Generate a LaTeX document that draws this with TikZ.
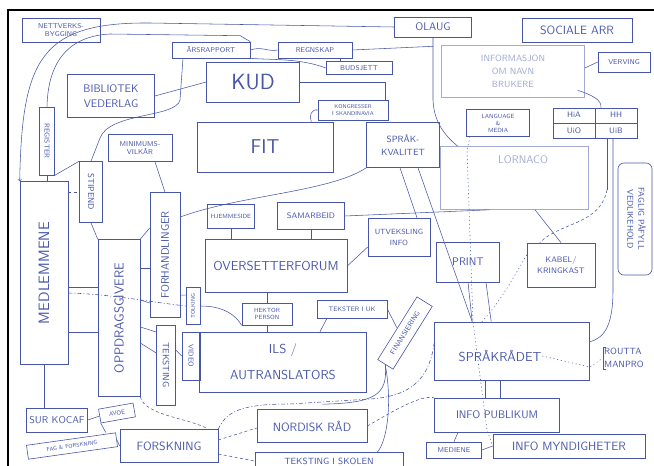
\documentclass[tikz,border=0pt]{standalone}
\usepackage{graphicx}
\usetikzlibrary{calc}
\definecolor{ink}{RGB}{72,86,168}
\definecolor{pale}{RGB}{160,170,210}
\newcommand{\hand}[2]{\fontsize{#1}{#2}\selectfont\sffamily}
\tikzset{
  inkbox/.style={draw=ink, line width=0.6pt, text=ink, inner sep=1pt, align=center},
  palebox/.style={inkbox, draw=pale, text=pale},
  inktext/.style={text=ink, inner sep=1pt, align=center},
  link/.style={draw=ink, line width=0.55pt},
  dashlink/.style={link, dash pattern=on 3pt off 2.5pt},
  dotlink/.style={link, dash pattern=on 0.8pt off 3pt, line cap=round},
  dashdotlink/.style={link, dash pattern=on 4pt off 2pt on 1pt off 2pt},
}

\begin{document}
\begin{tikzpicture}[x=1pt,y=-1pt]
		%%%%% START %%%%%
		\useasboundingbox (0,0) rectangle (654,466);
		\draw[line width=1.6pt] (8,466) -- (8,10) -- (654,10);
		
		% top row
		\node[inkbox, minimum width=78, minimum height=24, font=\hand{7}{8}] (netv) at (61,30) {NETTVERKS-\\BYGGING};
		\node[inkbox, minimum width=78, minimum height=16, font=\hand{7}{8}] (aars) at (211,50) {ÅRSRAPPORT};
		\node[inkbox, minimum width=74, minimum height=16, font=\hand{7}{8}] (regn) at (315,50) {REGNSKAP};
		\node[inkbox, minimum width=66, minimum height=13, font=\hand{7}{8}] (budsj) at (359,68) {BUDSJETT};
		\node[inkbox, minimum width=77, minimum height=20, font=\hand{11}{12}] (olaug) at (433,27) {OLAUG};
		\node[inkbox, minimum width=110, minimum height=24, font=\hand{12}{13}] (sosial) at (577,30) {SOCIALE ARR};
		\node[palebox, minimum width=143, minimum height=52, font=\hand{9}{13}] (infonavn) at (513,71) {INFORMASJON\\OM NAVN\\BRUKERE};
		\node[inkbox, minimum width=52, minimum height=20, font=\hand{7}{8}] (verv) at (624,62) {VERVING};
		
		\node[inkbox, minimum width=93, minimum height=40, font=\hand{22}{24}] (kud) at (253,82) {KUD};
		\node[inkbox, minimum width=87, minimum height=43, font=\hand{11}{15}] (bibl) at (111,96) {BIBLIOTEK\\VEDERLAG};
		\node[inkbox, minimum width=70, minimum height=20, font=\hand{5.5}{7}] (kongr) at (353,110) {KONGRESSER\\I SKANDINAVIA};
		\node[inkbox, minimum width=136, minimum height=50, font=\hand{20}{22}] (fit) at (265,147) {FIT};
		\node[inkbox, minimum width=73, minimum height=45, font=\hand{9}{13}] (sprkv) at (403,145) {SPRÅK-\\KVALITET};
		
		% universities
		\node[inkbox, minimum width=84, minimum height=30] (unis) at (595,123) {};
		\draw[link] (unis.west) -- (unis.east);
		\draw[link] (unis.north) -- (unis.south);
		\node[inktext, font=\hand{8}{9}] (hia) at (574,115) {HiA};
		\node[inktext, font=\hand{8}{9}] (hh) at (616,115) {HH};
		\node[inktext, font=\hand{8}{9}] (uio) at (574,131) {UiO};
		\node[inktext, font=\hand{8}{9}] (uib) at (616,131) {UiB};
		\node[inkbox, minimum width=63, minimum height=27, font=\hand{6}{7}] (langm) at (498,123) {LANGUAGE\\\&\\MEDIA};
		
		\node[palebox, minimum width=148, minimum height=63] (lorn) at (514,178) {};
		\node[inktext, text=pale, font=\hand{11}{12}] (lorntxt) at (523,160) {LORNACO};
		
		% left column
		\node[inkbox, minimum width=15, minimum height=68, font=\hand{7}{8}] (regis) at (47,141) {\rotatebox{-90}{REGISTER}};
		\node[inkbox, minimum width=64, minimum height=27, font=\hand{7}{8.5}] (minim) at (140,148) {MINIMUMS-\\VILKÅR};
		\node[inkbox, minimum width=23, minimum height=61, font=\hand{8.5}{9}] (stip) at (91,192) {\rotatebox{-90}{STIPEND}};
		\node[inkbox, minimum width=48, minimum height=183, font=\hand{15}{16}] (medl) at (44,273) {\rotatebox{90}{MEDLEMMENE}};
		\node[inkbox, minimum width=42, minimum height=157, font=\hand{13}{14}] (oppdr) at (119,318) {\rotatebox{90}{OPPDRAGSGIVERE}};
		\node[inkbox, minimum width=30, minimum height=125, font=\hand{11}{12}] (forh) at (165,255) {\rotatebox{90}{FORHANDLINGER}};
		\node[inkbox, minimum width=14, minimum height=37, font=\hand{5.5}{6}] (tolk) at (193,306) {\rotatebox{90}{TOLKING}};
		\node[inkbox, minimum width=19, minimum height=80, font=\hand{9}{10}] (teksting) at (166,365) {\rotatebox{-90}{TEKSTING}};
		\node[inkbox, minimum width=18, minimum height=48, font=\hand{7}{8}] (video) at (191,356) {\rotatebox{-90}{VIDEO}};
		
		% middle
		\node[inkbox, minimum width=47, minimum height=24, font=\hand{6}{7}] (hjem) at (231,216) {HJEMMESIDE};
		\node[inkbox, minimum width=67, minimum height=27, font=\hand{8}{9}] (samarb) at (311,216) {SAMARBEID};
		\node[inkbox, minimum width=62, minimum height=38, font=\hand{7.5}{11}] (utveks) at (399,237) {UTVEKSLING\\INFO};
		\node[inkbox, minimum width=142, minimum height=53, font=\hand{13}{14}] (overs) at (276,266) {OVERSETTERFORUM};
		\node[inkbox, minimum width=63, minimum height=40, font=\hand{11}{12}] (print) at (468,262) {PRINT};
		\node[inkbox, minimum width=68, minimum height=44, font=\hand{8}{11}] (kabel) at (561,265) {KABEL/\\KRINGKAST};
		\node[inkbox, rounded corners=6pt, minimum width=34, minimum height=112, font=\hand{8.5}{11}] (fagpaf) at (635,219) {\rotatebox{-90}{\begin{tabular}{@{}c@{}}FAGLIG PÅFYLL\\VEDLIKEHOLD\end{tabular}}};
		
		\node[inkbox, minimum width=50, minimum height=22, font=\hand{6}{7}] (hekt) at (267,314) {HEKTOR\\PERSON};
		\node[inkbox, minimum width=70, minimum height=18, font=\hand{6.5}{7}] (tekuk) at (352,309) {TEKSTER I UK};
		\node[inkbox, rotate=58, minimum width=74, minimum height=18, font=\hand{7}{8}] (finans) at (405,333) {FINANSIERING};
		\node[inkbox, minimum width=167, minimum height=60, font=\hand{13}{26}] (ils) at (283,362) {ILS /\\AUTRANSLATORS};
		
		\node[inkbox, minimum width=155, minimum height=58] (sprr) at (512,351) {};
		\node[inktext, font=\hand{13}{14}] (sprtxt) at (500,356) {SPRÅKRÅDET};
		\node[inktext, anchor=west, align=left, font=\hand{9}{13}] (routta) at (603,358) {ROUTTA\\MANPRO};
		\draw[link] ($(routta.north west)+(3,0)$) -- (routta.north west) -- (routta.south west) -- +(3,0);
		
		% bottom row
		\node[inkbox, minimum width=61, minimum height=24, font=\hand{10}{11}] (surk) at (57,420) {SUR KOCAF};
		\node[inkbox, rotate=10, minimum width=35, minimum height=14, font=\hand{6}{7}] (avoe) at (117,413) {AVOE};
		\node[inkbox, rotate=8, minimum width=90, minimum height=14, font=\hand{5.5}{6}] (fagf) at (72,446) {FAG \& FORSKNING};
		\node[inkbox, minimum width=98, minimum height=33, font=\hand{12}{13}] (forsk) at (169,446) {FORSKNING};
		\node[inkbox, minimum width=110, minimum height=33, font=\hand{12}{13}] (nordr) at (312,426) {NORDISK RÅD};
		\node[inkbox, minimum width=148, minimum height=17, font=\hand{9}{10}] (tekskol) at (329,461) {TEKSTING I SKOLEN};
		\node[inkbox, minimum width=125, minimum height=34, font=\hand{11}{12}] (infopub) at (497,415) {INFO PUBLIKUM};
		\node[inkbox, minimum width=55, minimum height=16, font=\hand{7}{8}] (medie) at (454,450) {MEDIENE};
		\node[inkbox, minimum width=152, minimum height=24, font=\hand{12}{13}] (infomyn) at (569,446) {INFO MYNDIGHETER};
		
		% connectors, top
		\draw[link,->] (olaug.west) -- (150,23) .. controls (40,22) and (22,60) .. (medl.north west);
		\draw[link] (aars.north east) -- ++(-10,-6) -- (110,34) .. controls (70,36) and (48,60) .. (regis.north);
		\draw[link] (aars.east) .. controls (262,46) and (268,52) .. (regn.west);
		\draw[link] (aars.south east) .. controls (270,60) and (300,58) .. (budsj.west);
		\draw[link] ($(regn.south)+(25,0)$) -- ($(budsj.north)+(-19,0)$);
		\draw[link] (regn.east) -- ($(olaug.south)+(0,9)$);
		\draw[link] (olaug.south) -- (433,100) .. controls (434,125) and (448,138) .. ($(lorn.north west)+(18,0)$);
		\draw[link] (bibl.east) -- (kud.west);
		\draw[link] ($(aars.south)+(-28,0)$) -- (180,100) .. controls (176,118) and (110,112) .. (100,138) -- (stip.north);
		\draw[link] (kud.east) -| ($(kongr.north east)+(-3,0)$);
		\draw[link] (kongr.west) .. controls (311,109) and (309,116) .. ($(fit.north east)+(-22,0)$);
		\draw[link] ($(infonavn.south east)+(-7,-7)$) .. controls (592,95) and (602,100) .. ($(unis.north)+(6,0)$);
		\draw[link] (verv.west) -- ($(infonavn.east)+(0,-3)$);
		
		% connectors, left
		\draw[link] (regis.south) -- (regis.south |- medl.north);
		\draw[link] (regis.south east) -- (stip.north west);
		\draw[dashlink] (medl.east |- stip.west) -- (stip.west);
		\draw[link] (stip.south) -- (oppdr.north west);
		\draw[link] (oppdr.north east) -- ($(forh.west)+(0,-27)$);
		\draw[link] ($(minim.south)+(15,0)$) -- (forh.north);
		\draw[link] ($(medl.east)+(0,14)$) -- ($(oppdr.west)+(0,-31)$);
		\draw[link] ($(medl.east)+(0,59)$) -- ($(oppdr.west)+(0,14)$);
		\draw[dashdotlink] ($(medl.east)+(0,20)$) .. controls (110,294) and (150,302) .. (tolk.west);
		\coordinate (of1) at ($(oppdr.east)+(0,-50)$);
		\coordinate (of2) at ($(oppdr.east)+(0,-18)$);
		\draw[link] (of1) -- (of1 -| forh.west);
		\draw[link] (of2) -- ($(of2 -| forh.west)+(0,3)$);
		\draw[link] ($(forh.east)+(0,40)$) -- ($(tolk.north west)+(0,8)$);
		\draw[link] ($(oppdr.east)+(0,9)$) -- ($(teksting.west)+(0,-33)$);
		\draw[link] ($(oppdr.east)+(0,25)$) -- ($(teksting.west)+(0,-12)$);
		\draw[link] ($(teksting.east)+(0,-15)$) -- (video.west);
		\draw[link] (tolk.east) .. controls (225,306) and (236,316) .. (hekt.south west);
		
		% connectors, middle
		\draw[link] ($(forh.east)+(0,-38)$) .. controls (240,195) and (330,192) .. (sprkv.south west);
		\draw[link] (hjem.south) -- (hjem.south |- overs.north);
		\draw[link] (samarb.south) -- (samarb.south |- overs.north);
		\draw[link] (samarb.east) -- ($(lorn.south west)+(50,0)$);
		\draw[link] (overs.east) -- ($(utveks.west)+(0,10)$);
		\draw[link] ($(sprkv.south)+(-3,0)$) -- ($(utveks.north)+(18,0)$);
		\draw[link] ($(sprkv.south)+(15,0)$) -- ($(sprr.north west)+(38,0)$);
		\draw[link] (overs.south -| hekt.north) -- (hekt.north);
		\draw[link] (hekt.south) -- (hekt.south |- ils.north);
		\draw[link] ($(tekuk.south)+(-25,0)$) -- ($(ils.north)+(37,0)$);
		\draw[link] (tekuk.east) -- (finans.north);
		
		% connectors, right
		\draw[dotlink] ($(langm.south)+(-28,0)$) -- (467,150) -- (473,322) -- (487,430) -- (infomyn.west);
		\draw[link] ($(lorn.south)+(21,0)$) -- (kabel.north);
		\coordinate (unidrop) at (607,190);
		\draw[link] ($(unis.south)+(12,0)$) -- (unidrop);
		\draw[dashlink] (unidrop) .. controls (600,225) and (560,222) .. ($(kabel.north west)+(13,0)$);
		\draw[link] ($(unis.south)+(18,0)$) -- (613,290) .. controls (613,322) and (606,338) .. ($(sprr.north east)+(0,20)$);
		\draw[link] (print.south) -- ($(sprr.north west)+(38,0)$);
		\draw[link] ($(print.south)+(18,0)$) -- ($(sprr.north west)+(57,0)$);
		\draw[dotlink] ($(kabel.west)+(0,-10)$) .. controls (512,280) and (500,302) .. ($(sprr.north)+(-30,0)$);
		\draw[dotlink] (sprtxt.east) -- ($(sprr.east)+(0,16)$) -- (routta.west);
		\draw[link] ($(sprr.south)+(-27,0)$) -- ($(infopub.north)+(-12,0)$);
		\draw[link] ($(sprr.south)+(-12,0)$) -- ($(infopub.north)+(3,0)$);
		\draw[link] ($(infopub.south)+(-39,0)$) -- (medie.north);
		\draw[link] (medie.east) -- (infomyn.west);
		
		% connectors, bottom
		\draw[link] (medl.south) -- (medl.south |- surk.north);
		\draw[link] (surk.east) -- (avoe.west);
		\draw[link] (avoe.south west) -- ($(fagf.north east)+(-10,0)$);
		\draw[link] (fagf.east) -- (forsk.west);
		\draw[dashlink] (oppdr.south east) .. controls (145,416) and (190,418) .. ($(forsk.north east)+(-10,0)$);
		\draw[dashdotlink] (forsk.north east) .. controls (226,412) and (240,404) .. (290,404) -- (370,399) .. controls (418,396) and (430,372) .. ($(sprr.west)+(0,-8)$);
		\draw[dashlink] ($(forsk.east)+(0,-6)$) -- ($(nordr.west)+(0,2)$);
		\draw[dashlink] ($(forsk.east)+(0,8)$) -- (tekskol.west);
		\draw[dashlink] (nordr.east) .. controls (395,410) and (420,395) .. (infopub.north west);
		\draw[link] (finans.west) .. controls (392,400) and (388,440) .. ($(tekskol.north east)+(-26,0)$);
		\draw[link] (finans.west) .. controls (388,395) and (375,403) .. ($(nordr.north east)+(-45,-5)$);
		%%%%% END %%%%%
\end{tikzpicture}
\end{document}
